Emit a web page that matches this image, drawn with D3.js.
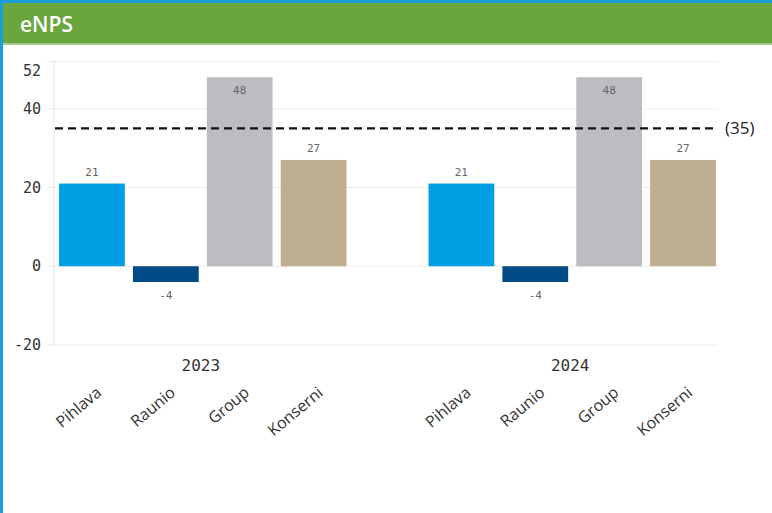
<!DOCTYPE html>
<html>
<head>
<meta charset="utf-8">
<script src="https://cdn.jsdelivr.net/npm/d3@7"></script>
<style>
  body { margin: 0; background: #fff; }
  svg { display: block; }
</style>
</head>
<body>
<svg id="chart" width="772" height="513"></svg>
<script>
const years = ["2023", "2024"];
const units = ["Pihlava", "Raunio", "Group", "Konserni"];
const enps2023 = [21, -4, 48, 27];
const enps2024 = [21, -4, 48, 27];
const yTicks = [-20, 0, 20, 40, 52];
const target = 35;
const unitColors = ["#009fe3", "#004b87", "#bbbdc0", "#bfae8f"];

const svg = d3.select("svg#chart");
const W = 772, H = 513;

// frame + header
svg.append("rect").attr("x", 0).attr("y", 0).attr("width", W).attr("height", H).attr("fill", "#fff");
svg.append("rect").attr("x", 0).attr("y", 0).attr("width", W).attr("height", 3).attr("fill", "#1b9ddb");
svg.append("rect").attr("x", 0).attr("y", 0).attr("width", 3).attr("height", H).attr("fill", "#1b9ddb");
svg.append("rect").attr("x", 3).attr("y", 3).attr("width", W - 3).attr("height", 41).attr("fill", "#6aa63e");
svg.append("rect").attr("x", 3).attr("y", 43).attr("width", W - 3).attr("height", 2).attr("fill", "#a9cc8c");
svg.append("text")
    .attr("x", 20).attr("y", 32)
    .attr("fill", "#fff")
    .attr("font-family", "'Open Sans', sans-serif")
    .attr("font-size", 21)
    .attr("font-weight", 600)
    .text("eNPS");

const data = [];
years.forEach((yr, i) => {
    const vals = i === 0 ? enps2023 : enps2024;
    units.forEach((u, j) => data.push({ year: yr, unit: u, value: vals[j], color: unitColors[j] }));
});

const left = 55, right = 720;
const y = d3.scaleLinear().domain([-20, 52]).range([345, 61.5]);
const x0 = d3.scaleBand().domain(years).range([left, right]).paddingInner(0.2).paddingOuter(0);
const x1 = d3.scaleBand().domain(units).range([0, x0.bandwidth()]).paddingInner(0.11).paddingOuter(0.055);

const plot = svg.append("g");

// grid
plot.selectAll("line.grid").data(yTicks).join("line")
    .attr("class", "grid")
    .attr("x1", 47).attr("x2", 718)
    .attr("y1", d => y(d)).attr("y2", d => y(d))
    .attr("stroke", "#ececec").attr("stroke-width", 1);
plot.append("line")
    .attr("x1", 54).attr("x2", 54)
    .attr("y1", y(52)).attr("y2", y(-20))
    .attr("stroke", "#e6e6e6");

// y labels
plot.selectAll("text.ytick").data(yTicks).join("text")
    .attr("class", "ytick")
    .attr("x", 41)
    .attr("y", d => d === 52 ? y(d) + 14 : y(d) + 5)
    .attr("text-anchor", "end")
    .attr("font-family", "'DejaVu Sans Mono', monospace")
    .attr("font-size", 15)
    .attr("fill", "#333")
    .text(d => d);

// bars
const bars = plot.selectAll("g.bar").data(data).join("g").attr("class", "bar");
bars.append("rect")
    .attr("x", d => x0(d.year) + x1(d.unit))
    .attr("width", x1.bandwidth())
    .attr("y", d => y(Math.max(0, d.value)))
    .attr("height", d => Math.abs(y(d.value) - y(0)))
    .attr("fill", d => d.color);

bars.append("text")
    .attr("x", d => x0(d.year) + x1(d.unit) + x1.bandwidth() / 2)
    .attr("y", d => {
        if (d.value < 0) return y(d.value) + 17;
        if (y(d.value) - 18 < y(52)) return y(d.value) + 17;
        return y(d.value) - 8;
    })
    .attr("text-anchor", "middle")
    .attr("font-family", "'DejaVu Sans Mono', monospace")
    .attr("font-size", 11)
    .attr("fill", "#666")
    .text(d => d.value);

// year labels
plot.selectAll("text.year").data(years).join("text")
    .attr("class", "year")
    .attr("x", d => x0(d) + x0.bandwidth() / 2 - 2)
    .attr("y", 371)
    .attr("text-anchor", "middle")
    .attr("font-family", "'DejaVu Sans Mono', monospace")
    .attr("font-size", 16)
    .attr("fill", "#333")
    .text(d => d);

// category labels
bars.append("text")
    .attr("transform", d => {
        const cx = x0(d.year) + x1(d.unit) + x1.bandwidth() / 2 + 7;
        return `translate(${cx},${390}) rotate(-40)`;
    })
    .attr("text-anchor", "end")
    .attr("dy", "0.35em")
    .attr("font-family", "'Open Sans', sans-serif")
    .attr("font-size", 16)
    .attr("fill", "#333")
    .text(d => d.unit);

// target line
plot.append("line")
    .attr("x1", left).attr("x2", 718)
    .attr("y1", y(target)).attr("y2", y(target))
    .attr("stroke", "#111").attr("stroke-width", 2.2)
    .attr("stroke-dasharray", "8,5");
plot.append("text")
    .attr("x", 725).attr("y", y(target) + 6)
    .attr("font-family", "'Open Sans', sans-serif")
    .attr("font-size", 17)
    .attr("fill", "#222")
    .text(`(${target})`);
</script>
</body>
</html>
